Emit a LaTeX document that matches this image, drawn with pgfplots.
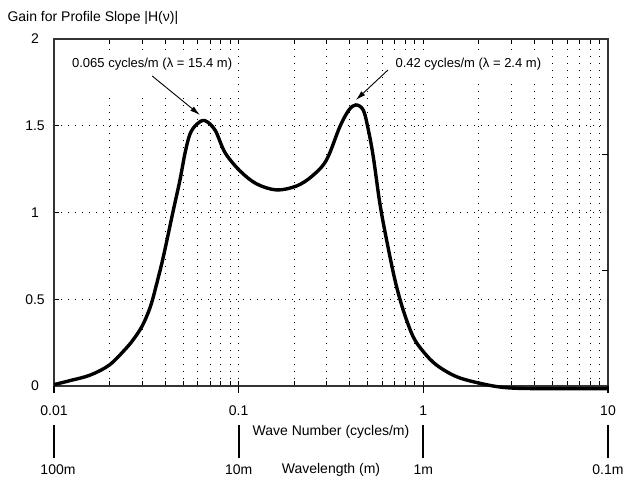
\documentclass[border=0pt]{standalone}
\usepackage{pgfplots}
\pgfplotsset{compat=1.18}
\usepackage{fontspec}
\setmainfont{Liberation Sans}
\usetikzlibrary{arrows.meta}
\pgfplotstableread{
x y
0.01 0.008
0.0122 0.031
0.0157 0.063
0.02 0.122
0.0248 0.222
0.0275 0.282
0.03 0.345
0.032 0.41
0.0338 0.48
0.036 0.59
0.0391 0.745
0.0443 1.014
0.0481 1.187
0.0512 1.341
0.0545 1.452
0.0592 1.508
0.0655 1.530
0.0745 1.475
0.0844 1.345
0.1016 1.240
0.125 1.165
0.1606 1.130
0.206 1.153
0.25 1.21
0.299 1.303
0.353 1.494
0.395 1.59
0.431 1.62
0.473 1.59
0.504 1.475
0.536 1.32
0.582 1.05
0.633 0.84
0.702 0.611
0.778 0.438
0.881 0.284
1.0 0.198
1.178 0.121
1.51 0.054
2.02 0.016
2.71 -0.008
4 -0.015
10 -0.015
}\gaincurve
\begin{document}
\begin{tikzpicture}
\begin{axis}[
  at={(0,0)}, anchor=south west,
  scale only axis, width=554bp, height=347bp,
  xmode=log, xmin=0.01, xmax=10, ymin=0, ymax=2,
  clip=false,
  xtick={0.01,0.1,1,10}, xticklabels={0.01,0.1,1,10},
  minor xtick={0.02,0.03,0.04,0.05,0.06,0.07,0.08,0.09,0.2,0.3,0.4,0.5,0.6,0.7,0.8,0.9,2,3,4,5,6,7,8,9},
  ytick={0,0.5,1,1.5,2}, yticklabels={0,0.5,1,1.5,2},
  xtick pos=both, ytick pos=left,
  tick align=inside,
  major tick length=5bp, minor tick length=5bp,
  tick style={black, line width=1bp},
  axis line style={black!80, line width=1.3bp},
  xmajorgrids, xminorgrids, ymajorgrids,
  major grid style={black, line width=1bp, dash pattern=on 1.3bp off 5.7bp},
  minor grid style={black, line width=1bp, dash pattern=on 1.3bp off 5.7bp},
  ticklabel style={font=\fontsize{14bp}{16bp}\selectfont},
  xticklabel style={yshift=-16bp},
  yticklabel style={anchor=center, xshift=-19bp},
  /pgf/number format/assume math mode=true,
]
\addplot[black, line width=3.4bp, smooth, tension=0.55] table[x=x,y=y] {\gaincurve};

% annotations
\node[anchor=north west, fill=white, inner sep=2bp, text height=11bp, text depth=28bp,
      font=\fontsize{13bp}{15bp}\selectfont]
  at (axis cs:0.0122,1.91) {0.065 cycles/m (λ = 15.4 m)};
\node[anchor=north west, fill=white, inner sep=2bp, text height=11bp, text depth=8bp,
      font=\fontsize{13bp}{15bp}\selectfont]
  at (axis cs:0.688,1.91) {0.42 cycles/m (λ = 2.4 m)};
\draw[line width=0.9bp, -{Latex[length=10bp,width=5.5bp]}] (axis cs:0.034,1.787) -- (axis cs:0.0617,1.562);
\draw[line width=0.9bp, -{Latex[length=10bp,width=5.5bp]}] (axis cs:0.643,1.821) -- (axis cs:0.431,1.648);

% right-side small ticks
\draw[black, line width=1.2bp] (rel axis cs:1,0.3333) -- ++(-6bp,0pt);
\draw[black, line width=1.2bp] (rel axis cs:1,0.6667) -- ++(-6bp,0pt);

% bottom outward major ticks and wavelength scale
\pgfplotsinvokeforeach{0.01,0.1,1,10}{
  \draw[black, line width=1.5bp] (axis cs:#1,0) -- ++(0pt,-7bp);
  \draw[black, line width=1.8bp] (axis cs:#1,0) ++(0pt,-39bp) -- ++(0pt,-33bp);
}
\node[font=\fontsize{14bp}{16bp}\selectfont, xshift=4bp, yshift=-84bp] at (axis cs:0.01,0) {100m};
\node[font=\fontsize{14bp}{16bp}\selectfont, yshift=-84bp] at (axis cs:0.1,0) {10m};
\node[font=\fontsize{14bp}{16bp}\selectfont, yshift=-84bp] at (axis cs:1,0) {1m};
\node[font=\fontsize{14bp}{16bp}\selectfont, yshift=-84bp] at (axis cs:10,0) {0.1m};

\node[font=\fontsize{14bp}{16bp}\selectfont, yshift=-46bp] at (rel axis cs:0.5,0) {Wave Number (cycles/m)};
\node[font=\fontsize{14bp}{16bp}\selectfont, yshift=-84bp] at (rel axis cs:0.5,0) {Wavelength (m)};
\node[anchor=west, font=\fontsize{14bp}{16bp}\selectfont, xshift=-50bp, yshift=21bp] at (rel axis cs:0,1) {Gain for Profile Slope |H(ν)|};
\end{axis}
\pgfresetboundingbox
\path[use as bounding box] (-54bp,-95bp) rectangle (571bp,386bp);
\end{tikzpicture}
\end{document}
